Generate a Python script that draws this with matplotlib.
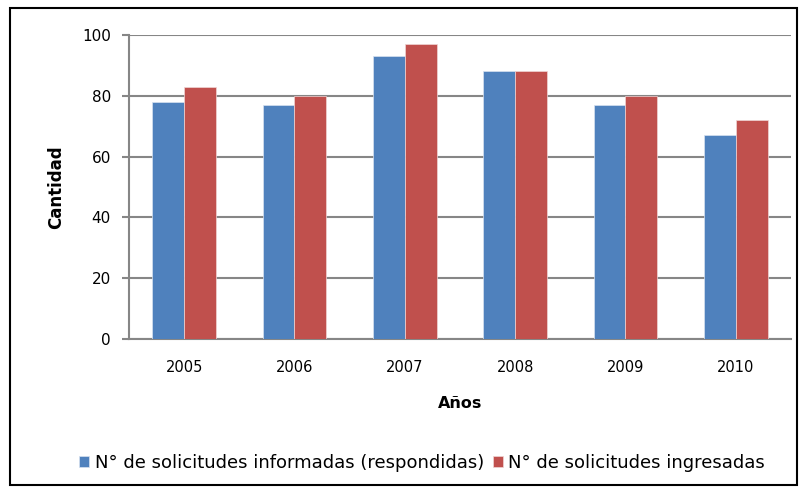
import matplotlib.pyplot as plt
from matplotlib.patches import Rectangle
import numpy as np

years = ["2005", "2006", "2007", "2008", "2009", "2010"]
respondidas = [78, 77, 93, 88, 77, 67]
ingresadas = [83, 80, 97, 88, 80, 72]
yticks = [0, 20, 40, 60, 80, 100]

blue = "#4F81BD"
red = "#C0504D"
grid_gray = "#868686"

fig = plt.figure(figsize=(8.04, 4.91), dpi=100)
ax = fig.add_axes([129 / 804, 1 - 339 / 491, 662 / 804, 304 / 491])

x = np.arange(len(years))
w = 0.29
ax.bar(x - w / 2, respondidas, w, color=blue, edgecolor="#d8e2f0", linewidth=0.5,
       label="N° de solicitudes informadas (respondidas)", zorder=3)
ax.bar(x + w / 2, ingresadas, w, color=red, edgecolor="#f0d5d5", linewidth=0.5,
       label="N° de solicitudes ingresadas", zorder=3)

ax.set_xlim(-0.5, len(years) - 0.5)
ax.set_ylim(0, 100)
ax.set_yticks(yticks)
ax.set_xticks(x)
ax.set_xticklabels(years)
ax.yaxis.grid(True, color=grid_gray, linewidth=1.5, zorder=0)
ax.set_axisbelow(True)

for side in ["top", "right"]:
    ax.spines[side].set_visible(False)
ax.spines["left"].set_color(grid_gray)
ax.spines["left"].set_linewidth(1.5)
ax.spines["bottom"].set_color(grid_gray)
ax.spines["bottom"].set_linewidth(1.5)
ax.tick_params(axis="y", length=5, width=1.5, color=grid_gray, labelsize=11, pad=8)
ax.tick_params(axis="x", length=0, labelsize=10.5, pad=15)

ax.set_ylabel("Cantidad", fontsize=12, fontweight="bold", labelpad=12)
ax.set_xlabel("Años", fontsize=11.5, fontweight="bold", labelpad=15)

fig.legend(loc="center", bbox_to_anchor=(0.525, 1 - 463 / 491), ncol=2, frameon=False,
           fontsize=13, handlelength=0.55, handleheight=0.55, handletextpad=0.3,
           columnspacing=0.5)

fig.patches.append(Rectangle((10 / 804, 1 - 485 / 491), 787 / 804, 477 / 491,
                             transform=fig.transFigure, fill=False,
                             edgecolor="black", linewidth=1.5))

fig.savefig("out.png", dpi=100)
